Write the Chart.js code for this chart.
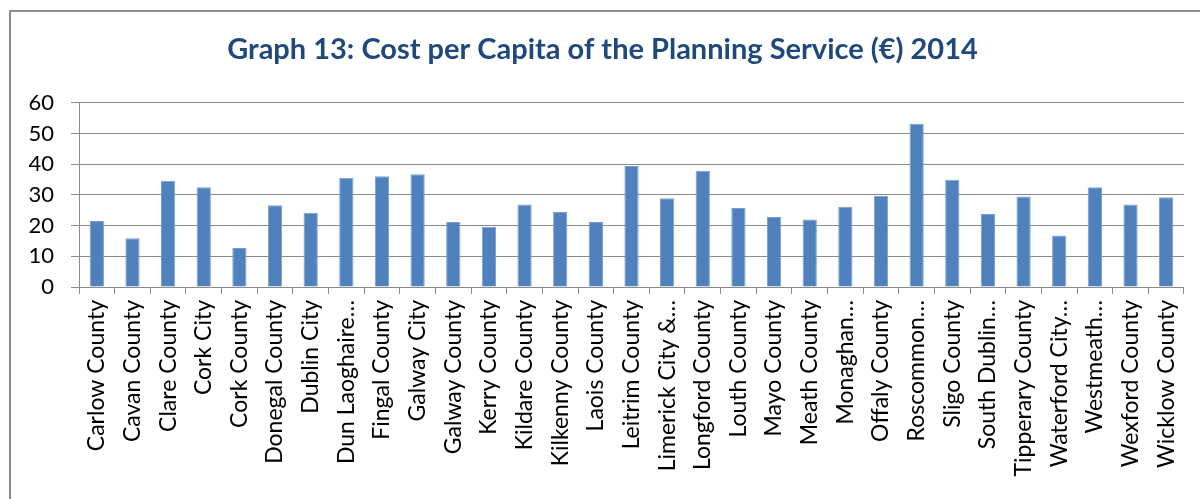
<!DOCTYPE html>
<html>
<head>
<meta charset="utf-8">
<script src="https://cdn.jsdelivr.net/npm/chart.js@4/dist/chart.umd.min.js"></script>
<style>
  html, body { margin: 0; padding: 0; background: #fff; }
  #wrap { position: relative; width: 1200px; height: 499px; overflow: hidden; }
  #frame { position: absolute; left: 9px; top: 10px; width: 1300px; height: 600px; border: 2px solid #8c8c8c; }
  canvas { position: absolute; left: 0; top: 0; }
</style>
</head>
<body>
<div id="wrap">
  <div id="frame"></div>
  <canvas id="grafico" width="1200" height="499"></canvas>
</div>
<script>
// councils as shown on the axis (long names are cut off in the original)
const councils = [
  'Carlow County', 'Cavan County', 'Clare County', 'Cork City', 'Cork County',
  'Donegal County', 'Dublin City', 'Dun Laoghaire…', 'Fingal County', 'Galway City',
  'Galway County', 'Kerry County', 'Kildare County', 'Kilkenny County', 'Laois County',
  'Leitrim County', 'Limerick City &…', 'Longford County', 'Louth County', 'Mayo County',
  'Meath County', 'Monaghan…', 'Offaly County', 'Roscommon…', 'Sligo County',
  'South Dublin…', 'Tipperary County', 'Waterford City…', 'Westmeath…', 'Wexford County',
  'Wicklow County'
];

// cost per capita (€), 2014
const costPerCapita = [
  21.5, 15.9, 34.6, 32.5, 12.7,
  26.6, 24.2, 35.6, 36.1, 36.7,
  21.2, 19.6, 26.9, 24.4, 21.2,
  39.4, 28.9, 37.9, 25.7, 22.8,
  22.0, 26.1, 29.7, 53.2, 34.9,
  23.8, 29.5, 16.8, 32.5, 26.9,
  29.2
];

const yTicks = [0, 10, 20, 30, 40, 50, 60];

const tituloGrafico = 'Graph 13: Cost per Capita of the Planning Service (€) 2014';

const gris = '#8a8a8a';
const fuente = 'Lato, "Open Sans", sans-serif';

new Chart(document.getElementById('grafico'), {
  type: 'bar',
  data: {
    labels: councils,
    datasets: [{
      label: 'Cost per Capita',
      data: costPerCapita,
      backgroundColor: '#4F81BD',
      borderColor: '#7a9fcf',
      borderWidth: 1,
      categoryPercentage: 1,
      barPercentage: 0.4
    }]
  },
  options: {
    responsive: false,
    animation: false,
    layout: { padding: { left: 20, right: 15, top: 0, bottom: 0 } },
    plugins: {
      legend: { display: false },
      tooltip: { enabled: false },
      title: {
        display: true,
        text: tituloGrafico,
        color: '#1F497D',
        font: { family: fuente, size: 29, weight: 'bold', lineHeight: 1.2 },
        padding: { top: 32, bottom: 36 }
      }
    },
    scales: {
      x: {
        offset: true,
        grid: {
          offset: true,
          drawOnChartArea: false,
          drawTicks: true,
          tickLength: 7,
          color: gris,
          lineWidth: 1
        },
        border: { color: gris, width: 1 },
        ticks: {
          autoSkip: false,
          minRotation: 90,
          maxRotation: 90,
          padding: 6,
          color: '#000',
          font: { family: fuente, size: 23 }
        },
        afterFit: scale => { scale.height = 212; }
      },
      y: {
        min: 0,
        max: 60,
        afterBuildTicks: scale => { scale.ticks = yTicks.map(v => ({ value: v })); },
        grid: {
          color: gris,
          lineWidth: 1,
          tickLength: 8
        },
        border: { color: gris, width: 1 },
        ticks: {
          padding: 17,
          color: '#000',
          font: { family: fuente, size: 22 }
        },
        afterFit: scale => { scale.width = 59; }
      }
    }
  }
});
</script>
</body>
</html>
